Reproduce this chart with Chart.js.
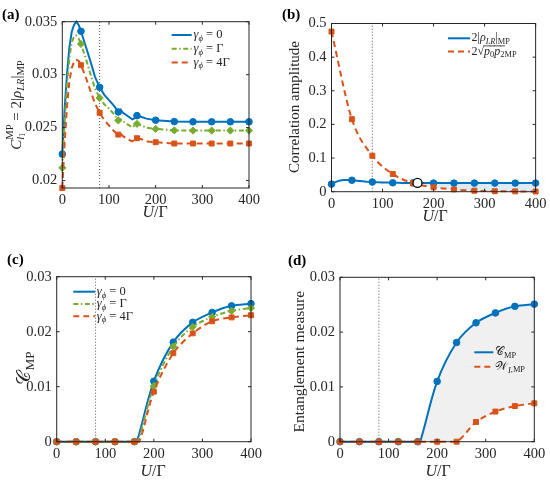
<!DOCTYPE html>
<html>
<head>
<meta charset="utf-8">
<script src="https://cdn.jsdelivr.net/npm/chart.js@4.4.1/dist/chart.umd.min.js"></script>
<style>
  html, body { margin: 0; padding: 0; background: #fff; }
  #wrap { position: relative; width: 550px; height: 487px; }
  canvas { position: absolute; }
</style>
</head>
<body>
<div id="wrap">
  <canvas id="pa" width="275" height="245" style="left:0;top:0"></canvas>
  <canvas id="pb" width="275" height="245" style="left:275px;top:0"></canvas>
  <canvas id="pc" width="275" height="242" style="left:0;top:245px"></canvas>
  <canvas id="pd" width="275" height="242" style="left:275px;top:245px"></canvas>
</div>
<script>
const SERIF = '"Liberation Serif", "DejaVu Serif", serif';
const INK = '#262626';
const BLUE = '#0072BD', GREEN = '#77AC30', RED = '#D95319';
const TICK_SIZE = 14.5;

// shared x axis
const uTicks = [0, 100, 200, 300, 400];
const uMarked = [0, 40, 80, 120, 160, 200, 240, 280, 320, 360, 400];
const vLineU = 80;

// (a) concurrence-like amplitude, dense U grid
const uA = [0, 5, 10, 15, 20, 25, 30, 35, 40, 50, 60, 70, 80, 90, 100, 110, 115, 120, 125, 130, 140, 150, 155, 160, 170, 180, 200, 240, 280, 320, 360, 400];
const aBlue = [0.0225, 0.0268, 0.0300, 0.0325, 0.0340, 0.0347, 0.0350, 0.0347, 0.0341, 0.0327, 0.0313, 0.0298, 0.0288, 0.0281, 0.0276, 0.0271, 0.0268, 0.02648, 0.0267, 0.0264, 0.0261, 0.02578, 0.0259, 0.02613, 0.0260, 0.02585, 0.0257, 0.02557, 0.02555, 0.02555, 0.02555, 0.02555];
const aGreen = [0.0212, 0.0255, 0.0290, 0.0315, 0.0330, 0.0336, 0.0337, 0.0334, 0.0329, 0.0316, 0.0301, 0.0287, 0.0278, 0.0272, 0.0268, 0.0263, 0.0260, 0.02568, 0.0258, 0.0256, 0.0253, 0.02503, 0.0252, 0.02535, 0.0252, 0.0250, 0.02488, 0.02474, 0.02472, 0.02472, 0.02472, 0.02472];
const aRed = [0.0193, 0.0235, 0.0270, 0.0293, 0.0306, 0.0312, 0.0314, 0.0313, 0.0309, 0.0298, 0.0285, 0.0273, 0.0264, 0.0257, 0.0252, 0.0247, 0.0245, 0.02434, 0.0244, 0.0242, 0.0239, 0.0237, 0.0239, 0.0240, 0.0239, 0.0237, 0.02362, 0.0235, 0.0235, 0.0235, 0.0235, 0.0235];
const aTicks = [0.02, 0.025, 0.03, 0.035];

// (b) 2 sqrt(p0 p2) vs U
const bRed = [0.476, 0.2155, 0.107, 0.0527, 0.025, 0.013, 0.0068, 0.003, 0.0015, 0.001, 0.0005];
const bCross = [168.5, 0.026];
const bTicks = [0, 0.1, 0.2, 0.3, 0.4, 0.5];

// (c) C_MP for the three dephasing rates
const uCBlue = [0, 40, 80, 120, 160, 165, 200, 240, 280, 320, 360, 400];
const cBlue = [0, 0, 0, 0, 0, 0, 0.0110, 0.0181, 0.0217, 0.0235, 0.0247, 0.0251];
const uCGreen = [0, 40, 80, 120, 160, 167, 200, 240, 280, 320, 360, 400];
const cGreen = [0, 0, 0, 0, 0, 0, 0.0101, 0.0173, 0.0209, 0.0227, 0.0238, 0.0243];
const uCRed = [0, 40, 80, 120, 160, 170, 200, 240, 280, 320, 360, 400];
const cRed = [0, 0, 0, 0, 0, 0, 0.0091, 0.0161, 0.0197, 0.0219, 0.0226, 0.0230];
const cTicks = [0, 0.01, 0.02, 0.03];

// (d) W_I,MP on the marked grid
const dRed = [0, 0, 0, 0, 0, 0, 0, 0.0036, 0.0055, 0.0065, 0.0070];

// ---- rich text (sub/superscripts) ----
function segFont(s, size) {
  return (s.b ? 'bold ' : '') + (s.i ? 'italic ' : '') + (size * (s.sc || 1)) + 'px ' + SERIF;
}
function segsWidth(ctx, segs, size) {
  return segs.reduce((w, s) => w + segWidth(ctx, s, size), 0);
}
function segWidth(ctx, s, size) {
  if (s.top || s.bot) return Math.max(segsWidth(ctx, s.top || [], size), segsWidth(ctx, s.bot || [], size));
  ctx.font = segFont(s, size);
  return ctx.measureText(s.t).width;
}
function drawSegs(ctx, segs, x, y, size) {
  segs.forEach(s => {
    const w = segWidth(ctx, s, size);
    if (s.top || s.bot) {
      if (s.top) drawSegs(ctx, s.top, x, y, size);
      if (s.bot) drawSegs(ctx, s.bot, x, y, size);
    } else {
      ctx.font = segFont(s, size);
      ctx.fillText(s.t, x, y + (s.dy || 0) * size);
      if (s.over) {
        ctx.fillRect(x - 0.5, y - 0.5 * size, w + 1, Math.max(0.8, size * 0.05));
      }
    }
    x += w;
  });
}
function drawRich(ctx, segs, x, y, size, align, rot) {
  ctx.save();
  ctx.translate(x, y);
  if (rot) ctx.rotate(rot);
  ctx.textBaseline = 'middle';
  ctx.textAlign = 'left';
  const w = segsWidth(ctx, segs, size);
  drawSegs(ctx, segs, align === 'center' ? -w / 2 : 0, 0, size);
  ctx.restore();
}

// box, inward ticks, labels and legend drawn MATLAB style
const deco = {
  id: 'deco',
  afterDraw(chart, args, o) {
    const { ctx, chartArea: a, scales: { x, y } } = chart;
    ctx.save();
    ctx.strokeStyle = INK;
    ctx.lineWidth = 1;
    ctx.setLineDash([]);
    ctx.strokeRect(a.left, a.top, a.right - a.left, a.bottom - a.top);
    ctx.beginPath();
    x.ticks.forEach(t => {
      const px = x.getPixelForValue(t.value);
      ctx.moveTo(px, a.bottom); ctx.lineTo(px, a.bottom - 3);
      ctx.moveTo(px, a.top); ctx.lineTo(px, a.top + 3);
    });
    y.ticks.forEach(t => {
      const py = y.getPixelForValue(t.value);
      ctx.moveTo(a.left, py); ctx.lineTo(a.left + 3, py);
      ctx.moveTo(a.right, py); ctx.lineTo(a.right - 3, py);
    });
    ctx.stroke();

    ctx.fillStyle = '#000';
    ctx.font = 'bold 15px ' + SERIF;
    ctx.textBaseline = 'alphabetic';
    ctx.fillText(o.label[0], o.label[1], o.label[2]);

    ctx.fillStyle = INK;
    const xt = o.xTitle, yt = o.yTitle;
    drawRich(ctx, xt.segs, xt.x, xt.y, xt.size, 'center');
    drawRich(ctx, yt.segs, yt.x, yt.y, yt.size, 'center', -Math.PI / 2);

    const lg = o.legend;
    lg.rows.forEach(r => {
      ctx.strokeStyle = r.color;
      ctx.lineWidth = 2;
      ctx.setLineDash(r.dash);
      ctx.beginPath();
      ctx.moveTo(lg.x1, r.y); ctx.lineTo(lg.x2, r.y);
      ctx.stroke();
      ctx.setLineDash([]);
      drawRich(ctx, r.segs, lg.tx, r.y, lg.size, 'left');
    });
    ctx.restore();
  }
};

const DASH_G = [5, 2.5, 1.5, 2.5];
const DASH_R = [6, 4];

function pts(xs, ys) {
  return xs.map((x, i) => ({ x, y: ys[i] }));
}
// curve: 'straight' | 'monotone' | 'bezier'
function series(xs, ys, color, marker, r, dash, curve, extra) {
  return Object.assign({
    data: pts(xs, ys),
    borderColor: color,
    backgroundColor: color,
    borderWidth: 2,
    borderDash: dash,
    pointStyle: marker,
    pointRadius: c => (c.raw && uMarked.includes(c.raw.x) ? r : 0),
    pointBorderWidth: 1,
    pointBorderColor: color,
    pointBackgroundColor: color,
    cubicInterpolationMode: curve === 'monotone' ? 'monotone' : 'default',
    tension: curve === 'bezier' ? 0.3 : 0,
    fill: false,
    clip: 6
  }, extra || {});
}
function vline(y0, y1) {
  return {
    data: [{ x: vLineU, y: y0 }, { x: vLineU, y: y1 }],
    borderColor: '#555', borderWidth: 1, borderDash: [1, 2],
    pointRadius: 0, fill: false, order: 9
  };
}

function panel(id, o) {
  const b = o.box;
  return new Chart(document.getElementById(id), {
    type: 'line',
    data: { datasets: o.datasets },
    options: {
      responsive: false,
      animation: false,
      events: [],
      layout: { autoPadding: false, padding: { top: b.top, right: b.right, left: 0, bottom: 0 } },
      scales: {
        x: {
          type: 'linear', min: 0, max: 400,
          afterBuildTicks: s => { s.ticks = uTicks.map(v => ({ value: v })); },
          afterFit: s => { s.height = b.bottom; },
          grid: { display: false, drawTicks: false },
          border: { display: false },
          ticks: { font: { family: SERIF, size: TICK_SIZE }, color: INK, padding: 3.5, maxRotation: 0, autoSkip: false }
        },
        y: {
          type: 'linear', min: o.yMin, max: o.yMax,
          afterBuildTicks: s => { s.ticks = o.yTicks.map(v => ({ value: v })); },
          afterFit: s => { s.width = b.left; },
          grid: { display: false, drawTicks: false },
          border: { display: false },
          ticks: { font: { family: SERIF, size: TICK_SIZE }, color: INK, padding: 5, autoSkip: false,
                   callback: v => String(+v.toFixed(4)) }
        }
      },
      plugins: { legend: { display: false }, tooltip: { enabled: false }, deco: o.deco }
    },
    plugins: [deco]
  });
}

const gam = t => [{ t: 'γ', i: 1 }, { t: 'ϕ', i: 1, sc: 0.7, dy: 0.3 }, { t: ' = ' + t }];
const uOverG = [{ t: 'U', i: 1 }, { t: '/Γ' }];

panel('pa', {
  box: { left: 62.3, right: 26, top: 21.7, bottom: 57 },
  yMin: 0.0193, yMax: 0.035, yTicks: aTicks,
  datasets: [
    series(uA, aBlue, BLUE, 'circle', 3.3, [], 'straight', { order: 3 }),
    series(uA, aGreen, GREEN, 'rectRot', 3.6, DASH_G, 'straight', { order: 2 }),
    series(uA, aRed, RED, 'rect', 3.5, DASH_R, 'straight', { order: 1 }),
    vline(0.0193, 0.035)
  ],
  deco: {
    label: ['(a)', 2, 19],
    xTitle: { segs: uOverG, x: 155, y: 213, size: 16 },
    yTitle: {
      segs: [{ t: 'C', i: 1 },
             { top: [{ t: 'MP', sc: 0.7, dy: -0.45 }], bot: [{ t: 'l', i: 1, sc: 0.7, dy: 0.3 }, { t: '1', sc: 0.5, dy: 0.42 }] },
             { t: ' = 2|' }, { t: 'ρ', i: 1 }, { t: 'LR', i: 1, sc: 0.7, dy: 0.3 }, { t: '|' }, { t: 'MP', sc: 0.7, dy: 0.3 }],
      x: 17, y: 105, size: 15
    },
    legend: {
      x1: 171.7, x2: 191.7, tx: 193.5, size: 12.5,
      rows: [
        { y: 35, color: BLUE, dash: [], segs: gam('0') },
        { y: 48.7, color: GREEN, dash: DASH_G, segs: gam('Γ') },
        { y: 62.4, color: RED, dash: DASH_R, segs: gam('4Γ') }
      ]
    }
  }
});

panel('pb', {
  box: { left: 56.5, right: 11.7, top: 23.5, bottom: 53.3 },
  yMin: 0, yMax: 0.5, yTicks: bTicks,
  datasets: [
    series(uA, aBlue, BLUE, 'circle', 3.3, [], 'straight',
           { order: 2, fill: { target: 1, above: '#deebf7', below: 'rgba(0,0,0,0)' } }),
    series(uMarked, bRed, RED, 'rect', 3.5, DASH_R, 'monotone', { order: 1 }),
    {
      data: [{ x: bCross[0], y: bCross[1] }],
      showLine: false, pointRadius: 4.5, pointStyle: 'circle',
      pointBackgroundColor: '#fff', pointBorderColor: '#000', pointBorderWidth: 1.3,
      order: 0, clip: 6
    },
    vline(0, 0.5)
  ],
  deco: {
    label: ['(b)', 7, 19],
    xTitle: { segs: uOverG, x: 160, y: 217, size: 16 },
    yTitle: { segs: [{ t: 'Correlation amplitude' }], x: 20, y: 107, size: 15 },
    legend: {
      x1: 173, x2: 195, tx: 196.5, size: 12,
      rows: [
        { y: 38.3, color: BLUE, dash: [],
          segs: [{ t: '2|' }, { t: 'ρ', i: 1 }, { t: 'LR', i: 1, sc: 0.7, dy: 0.3 }, { t: '|' }, { t: 'MP', sc: 0.7, dy: 0.3 }] },
        { y: 51.5, color: RED, dash: DASH_R,
          segs: [{ t: '2√' }, { t: 'p', i: 1, over: 1 }, { t: '0', sc: 0.7, dy: 0.3, over: 1 },
                 { t: 'p', i: 1, over: 1 }, { t: '2', sc: 0.7, dy: 0.3, over: 1 }, { t: 'MP', sc: 0.7, dy: 0.3 }] }
      ]
    }
  }
});

panel('pc', {
  box: { left: 56.7, right: 24, top: 31.7, bottom: 45.3 },
  yMin: 0, yMax: 0.03, yTicks: cTicks,
  datasets: [
    series(uCBlue, cBlue, BLUE, 'circle', 3.3, [], 'bezier', { order: 3 }),
    series(uCGreen, cGreen, GREEN, 'rectRot', 3.6, DASH_G, 'bezier', { order: 2 }),
    series(uCRed, cRed, RED, 'rect', 3.5, DASH_R, 'bezier', { order: 1 }),
    vline(0, 0.03)
  ],
  deco: {
    label: ['(c)', 7, 19],
    xTitle: { segs: uOverG, x: 153, y: 226.7, size: 16 },
    yTitle: { segs: [{ t: '𝒞' }, { t: 'MP', sc: 0.7, dy: 0.3 }], x: 25, y: 123, size: 19 },
    legend: {
      x1: 73.3, x2: 95, tx: 96.7, size: 12.5,
      rows: [
        { y: 46.7, color: BLUE, dash: [], segs: gam('0') },
        { y: 59, color: GREEN, dash: DASH_G, segs: gam('Γ') },
        { y: 71.3, color: RED, dash: DASH_R, segs: gam('4Γ') }
      ]
    }
  }
});

panel('pd', {
  box: { left: 65, right: 15.7, top: 32.3, bottom: 45.3 },
  yMin: 0, yMax: 0.03, yTicks: cTicks,
  datasets: [
    series(uCBlue, cBlue, BLUE, 'circle', 3.3, [], 'bezier',
           { order: 2, fill: { target: 1, above: '#f0f0f0', below: 'rgba(0,0,0,0)' } }),
    series(uMarked, dRed, RED, 'rect', 3.5, DASH_R, 'bezier', { order: 1 }),
    vline(0, 0.03)
  ],
  deco: {
    label: ['(d)', 13, 20],
    xTitle: { segs: uOverG, x: 163, y: 226.7, size: 16 },
    yTitle: { segs: [{ t: 'Entanglement measure' }], x: 25, y: 116.7, size: 15.5 },
    legend: {
      x1: 199.3, x2: 218.3, tx: 220, size: 12,
      rows: [
        { y: 107.3, color: BLUE, dash: [], segs: [{ t: '𝒞' }, { t: 'MP', sc: 0.7, dy: 0.3 }] },
        { y: 121.7, color: RED, dash: DASH_R, segs: [{ t: '𝒲' }, { t: 'I', i: 1, sc: 0.7, dy: 0.3 }, { t: ',MP', sc: 0.7, dy: 0.3 }] }
      ]
    }
  }
});
</script>
</body>
</html>
